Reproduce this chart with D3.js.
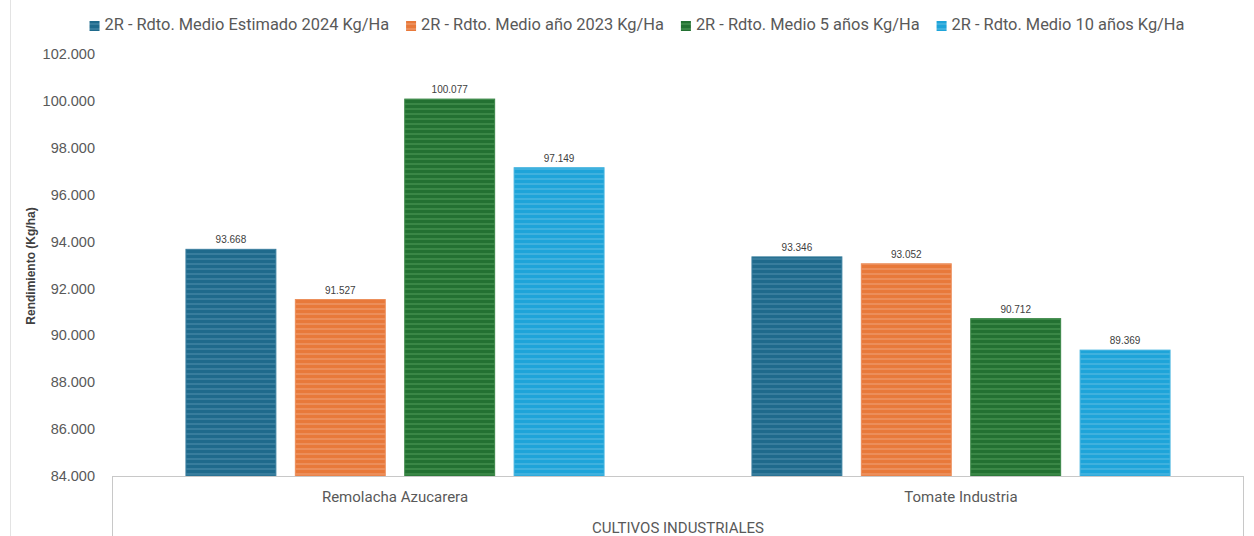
<!DOCTYPE html>
<html>
<head>
<meta charset="utf-8">
<script src="https://cdn.jsdelivr.net/npm/d3@7"></script>
<style>
  html, body { margin: 0; padding: 0; background: #fff; }
  svg { display: block; }
</style>
</head>
<body>
<svg id="chart" width="1254" height="536"></svg>
<script>
// data
const categories = ["Remolacha Azucarera", "Tomate Industria"]
const seriesNames = [
  "2R - Rdto. Medio Estimado 2024 Kg/Ha",
  "2R - Rdto. Medio año 2023 Kg/Ha",
  "2R - Rdto. Medio 5 años Kg/Ha",
  "2R - Rdto. Medio 10 años Kg/Ha"
]
const rdto2024 = [93668, 93346]
const rdto2023 = [91527, 93052]
const rdto5 = [100077, 90712]
const rdto10 = [97149, 89369]
const yTicks = [84000, 86000, 88000, 90000, 92000, 94000, 96000, 98000, 100000, 102000]
const groupLabel = "CULTIVOS INDUSTRIALES"
const yTitle = "Rendimiento (Kg/ha)"

const seriesValues = [rdto2024, rdto2023, rdto5, rdto10]
const colors = ["#1f6a8c", "#e8793a", "#237132", "#1ea4d9"]
const stripes = ["#387d9d", "#ec8e5a", "#3a8746", "#3fb1de"]

const narrow = "'Liberation Sans Narrow', 'Arial Narrow', 'Roboto', sans-serif"
const plain = "'Liberation Sans', Arial, sans-serif"

const layout = {left: 112, right: 1244, top: 54, bottom: 476}

const es = d3.formatLocale({decimal: ",", thousands: ".", grouping: [3], currency: ["", "€"]})
const fmt = es.format(",.0f")

const svg = d3.select("#chart")

// striped fills
const defs = svg.append("defs")
colors.forEach((c, i) => {
  const p = defs.append("pattern")
    .attr("id", "stripe" + i)
    .attr("patternUnits", "userSpaceOnUse")
    .attr("width", 8).attr("height", 5)
  p.append("rect").attr("width", 8).attr("height", 5).attr("fill", c)
  p.append("rect").attr("y", 3).attr("width", 8).attr("height", 2).attr("fill", stripes[i])
})

// faint chart border on the left
svg.append("line")
  .attr("x1", 10.5).attr("x2", 10.5).attr("y1", 0).attr("y2", 536)
  .attr("stroke", "#e3e3e3")

const x0 = d3.scaleBand()
  .domain(categories)
  .range([layout.left, layout.right])

const x1 = d3.scaleBand()
  .domain(d3.range(seriesNames.length))
  .range([0, x0.bandwidth()])
  .paddingInner(0.178)
  .paddingOuter(0.676)

const y = d3.scaleLinear()
  .domain([84000, 102000])
  .range([layout.bottom, layout.top])

// y axis (labels only)
const yAxis = svg.append("g")
  .attr("transform", `translate(${layout.left},0)`)
  .call(d3.axisLeft(y).tickValues(yTicks).tickFormat(fmt).tickSize(0).tickPadding(17))
yAxis.select(".domain").remove()
yAxis.selectAll("text")
  .style("font-family", plain)
  .style("font-size", "14.5px")
  .attr("fill", "#595959")

svg.append("text")
  .attr("transform", "translate(35,266) rotate(-90)")
  .attr("text-anchor", "middle")
  .style("font-family", plain)
  .style("font-size", "12px")
  .style("font-weight", "bold")
  .attr("fill", "#404040")
  .text(yTitle)

// bars
const groups = svg.selectAll("g.cat")
  .data(categories)
  .join("g")
  .attr("class", "cat")
  .attr("transform", d => `translate(${x0(d)},0)`)

const cells = groups.selectAll("g.bar")
  .data((d, ci) => seriesValues.map((vals, si) => ({si, v: vals[ci]})))
  .join("g")
  .attr("class", "bar")

cells.append("rect")
  .attr("x", d => x1(d.si))
  .attr("width", x1.bandwidth())
  .attr("y", d => y(d.v))
  .attr("height", d => y(84000) - y(d.v))
  .attr("fill", d => `url(#stripe${d.si})`)
  .attr("stroke", d => stripes[d.si])
  .attr("stroke-width", 1)

cells.append("text")
  .attr("x", d => x1(d.si) + x1.bandwidth() / 2)
  .attr("y", d => y(d.v) - 6)
  .attr("text-anchor", "middle")
  .style("font-family", plain)
  .style("font-size", "10px")
  .attr("fill", "#404040")
  .text(d => fmt(d.v))

// category box
const box = svg.append("g").attr("stroke", "#c8c8c8").attr("fill", "none")
box.append("line")
  .attr("x1", layout.left).attr("x2", layout.right)
  .attr("y1", layout.bottom + 0.5).attr("y2", layout.bottom + 0.5)
box.append("line")
  .attr("x1", layout.left + 0.5).attr("x2", layout.left + 0.5)
  .attr("y1", layout.bottom).attr("y2", 536)
box.append("line")
  .attr("x1", layout.right - 0.5).attr("x2", layout.right - 0.5)
  .attr("y1", layout.bottom).attr("y2", 536)

svg.selectAll("text.catlabel")
  .data(categories)
  .join("text")
  .attr("class", "catlabel")
  .attr("x", d => x0(d) + x0.bandwidth() / 2)
  .attr("y", 502)
  .attr("text-anchor", "middle")
  .style("font-family", narrow)
  .style("font-size", "15px")
  .attr("fill", "#595959")
  .text(d => d)

svg.append("text")
  .attr("x", (layout.left + layout.right) / 2)
  .attr("y", 533)
  .attr("text-anchor", "middle")
  .style("font-family", narrow)
  .style("font-size", "15px")
  .attr("fill", "#595959")
  .text(groupLabel)

// legend, laid out from measured text widths and centred
const legend = svg.append("g")
const items = legend.selectAll("g")
  .data(seriesNames)
  .join("g")
items.append("rect")
  .attr("width", 10).attr("height", 10)
  .attr("y", -9)
  .attr("fill", (d, i) => `url(#stripe${i})`)
items.append("text")
  .attr("x", 15)
  .style("font-family", narrow)
  .style("font-size", "16.4px")
  .attr("fill", "#595959")
  .text(d => d)

let cursor = 0
items.each(function () {
  const w = d3.select(this).select("text").node().getComputedTextLength()
  d3.select(this).attr("transform", `translate(${cursor},0)`)
  cursor += 15 + w + 17
})
const total = cursor - 17
legend.attr("transform", `translate(${637 - total / 2},30)`)
</script>
</body>
</html>
